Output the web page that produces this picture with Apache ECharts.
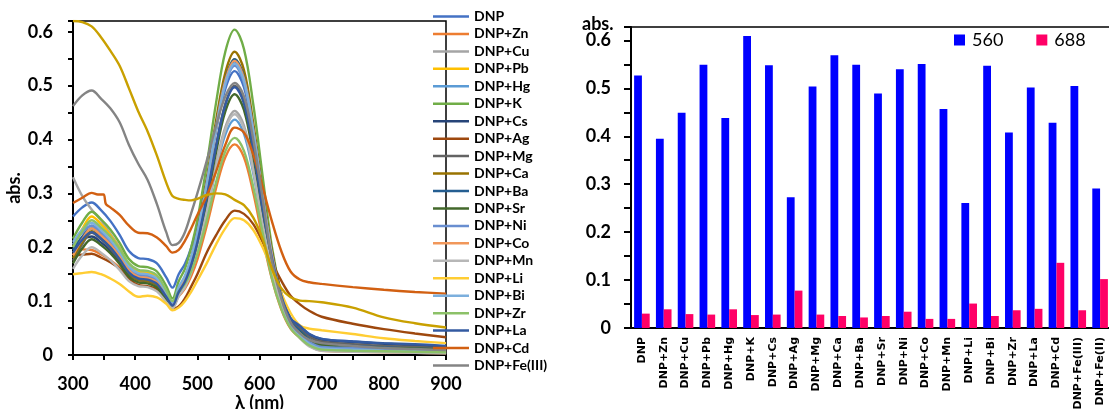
<!DOCTYPE html>
<html><head><meta charset="utf-8">
<script src="https://cdn.jsdelivr.net/npm/echarts@6/dist/echarts.min.js"></script>
<style>html,body{margin:0;padding:0;background:#fff}#c{width:1109px;height:409px}</style>
</head><body><div id="c"></div>
<script>
// ---------- Left panel: absorption spectra ----------
const wavelengths = [300,315,330,345,360,375,390,405,420,435,450,460,470,480,490,500,515,530,545,560,575,590,605,620,635,650,665,680,700,750,800,850,900];
const cdWavelengths = [300,315,330,340,349,353,360,375,390,405,420,435,450,460,470,480,490,500,515,530,545,560,575,590,605,620,635,650,665,680,700,750,800,850,900];

const absDNP = [.257,.274,.283,.269,.249,.223,.193,.180,.178,.170,.144,.125,.150,.169,.199,.241,.324,.417,.494,.527,.497,.412,.302,.178,.110,.067,.054,.039,.030,.025,.021,.018,.015];
const absZn  = [.190,.196,.195,.187,.176,.162,.145,.138,.136,.128,.106,.092,.109,.123,.146,.177,.239,.309,.367,.391,.367,.301,.217,.141,.085,.049,.032,.018,.010,.008,.006,.005,.004];
const absCu  = [.330,.295,.270,.250,.225,.200,.165,.145,.143,.135,.112,.092,.114,.131,.158,.196,.270,.354,.423,.453,.426,.348,.249,.159,.094,.053,.035,.020,.012,.010,.008,.007,.006];
const absPb  = [.200,.234,.257,.243,.223,.198,.168,.155,.153,.145,.116,.095,.123,.145,.180,.227,.320,.425,.512,.549,.516,.421,.299,.187,.107,.061,.045,.029,.020,.017,.014,.012,.010];
const absHg  = [.205,.228,.240,.227,.210,.188,.162,.150,.148,.140,.115,.097,.117,.133,.159,.195,.265,.344,.409,.437,.411,.337,.243,.153,.091,.052,.035,.020,.012,.010,.008,.007,.006];
const absK   = [.216,.246,.266,.252,.233,.208,.178,.165,.163,.155,.128,.105,.137,.160,.199,.250,.352,.467,.563,.604,.568,.465,.332,.200,.114,.061,.041,.024,.015,.013,.011,.009,.008];
const absCs  = [.200,.215,.220,.209,.194,.174,.150,.140,.138,.130,.107,.092,.120,.142,.176,.224,.316,.421,.508,.545,.512,.417,.295,.191,.115,.068,.053,.037,.028,.024,.021,.018,.016];
const absAg  = [.185,.186,.188,.181,.172,.160,.142,.130,.128,.122,.103,.085,.090,.105,.127,.150,.190,.222,.250,.268,.262,.243,.210,.172,.138,.110,.094,.082,.071,.058,.048,.040,.033];
const absMg  = [.175,.206,.227,.215,.198,.177,.151,.140,.138,.130,.106,.090,.115,.135,.166,.209,.293,.388,.466,.500,.470,.383,.272,.176,.106,.063,.049,.034,.025,.020,.017,.015,.012];
const absCa  = [.180,.210,.230,.217,.200,.178,.152,.140,.138,.130,.106,.090,.120,.142,.178,.228,.324,.434,.524,.563,.529,.430,.304,.192,.110,.060,.044,.027,.018,.015,.012,.010,.008];
const absBa  = [.195,.220,.235,.222,.205,.183,.157,.145,.143,.135,.110,.093,.121,.143,.178,.226,.319,.424,.511,.549,.516,.420,.298,.187,.107,.061,.045,.029,.020,.017,.014,.012,.010];
const absSr  = [.170,.198,.215,.204,.189,.169,.145,.135,.133,.125,.102,.088,.112,.131,.161,.203,.284,.376,.452,.484,.455,.370,.262,.170,.099,.055,.042,.027,.018,.015,.013,.012,.010];
const absNi  = [.205,.228,.240,.227,.210,.187,.160,.148,.146,.138,.113,.095,.122,.144,.177,.223,.314,.416,.501,.537,.505,.412,.293,.183,.105,.058,.040,.024,.015,.013,.011,.009,.008];
const absCo  = [.185,.215,.235,.222,.205,.183,.157,.145,.143,.135,.110,.092,.120,.142,.177,.224,.317,.422,.509,.546,.513,.418,.296,.187,.107,.059,.033,.017,.008,.006,.005,.004,.003];
const absMn  = [.160,.185,.200,.190,.176,.158,.137,.128,.126,.118,.098,.087,.109,.126,.153,.191,.265,.348,.418,.447,.420,.342,.243,.159,.094,.053,.031,.016,.008,.006,.005,.004,.003];
const absLi  = [.150,.152,.154,.150,.142,.132,.118,.108,.110,.107,.095,.083,.088,.100,.117,.138,.170,.205,.235,.254,.250,.232,.200,.158,.115,.078,.055,.049,.046,.039,.031,.026,.022];
const absBi  = [.210,.233,.245,.232,.214,.191,.164,.152,.150,.142,.116,.098,.126,.147,.181,.227,.317,.420,.504,.541,.509,.416,.296,.183,.106,.058,.037,.021,.012,.010,.008,.007,.006];
const absZr  = [.200,.230,.250,.237,.220,.197,.170,.158,.156,.148,.120,.100,.118,.132,.155,.187,.249,.320,.378,.403,.379,.312,.227,.142,.086,.050,.032,.018,.010,.008,.007,.006,.005];
const absLa  = [.190,.214,.228,.216,.200,.178,.153,.142,.140,.132,.108,.092,.117,.136,.167,.209,.292,.386,.464,.497,.467,.381,.271,.179,.110,.068,.054,.039,.030,.025,.022,.020,.017];
const absCd  = [.282,.292,.301,.298,.298,.280,.274,.260,.240,.227,.226,.218,.202,.190,.195,.212,.235,.260,.295,.340,.390,.422,.413,.372,.312,.248,.193,.155,.140,.135,.132,.126,.121,.117,.114];
const absFe3 = [.462,.482,.491,.476,.458,.432,.390,.355,.325,.280,.228,.204,.208,.228,.263,.300,.360,.425,.480,.505,.480,.400,.290,.175,.105,.060,.040,.028,.022,.017,.013,.011,.009];
const absFe2 = [.620,.618,.610,.590,.565,.537,.495,.452,.415,.370,.320,.295,.290,.288,.287,.290,.297,.300,.298,.288,.278,.255,.215,.160,.124,.107,.101,.100,.098,.088,.070,.059,.051];

const spectraNames = ['DNP','DNP+Zn','DNP+Cu','DNP+Pb','DNP+Hg','DNP+K','DNP+Cs','DNP+Ag','DNP+Mg','DNP+Ca','DNP+Ba','DNP+Sr','DNP+Ni','DNP+Co','DNP+Mn','DNP+Li','DNP+Bi','DNP+Zr','DNP+La','DNP+Cd','DNP+Fe(III)','DNP+Fe(II)'];
const spectraValues = [absDNP,absZn,absCu,absPb,absHg,absK,absCs,absAg,absMg,absCa,absBa,absSr,absNi,absCo,absMn,absLi,absBi,absZr,absLa,absCd,absFe3,absFe2];
const spectraColors = ['#4472C4','#ED7D31','#A5A5A5','#FFC000','#5B9BD5','#70AD47','#264478','#9E480E','#636363','#997300','#255E91','#43682B','#698ED0','#F1975A','#B7B7B7','#FFCD33','#7CAFDD','#8CC168','#335AA1','#D26012','#848484','#C9A000'];
const legendNames = spectraNames.slice(0, 21);

// ---------- Right panel: bars ----------
const barCategories = ['DNP','DNP+Zn','DNP+Cu','DNP+Pb','DNP+Hg','DNP+K','DNP+Cs','DNP+Ag','DNP+Mg','DNP+Ca','DNP+Ba','DNP+Sr','DNP+Ni','DNP+Co','DNP+Mn','DNP+Li','DNP+Bi','DNP+Zr','DNP+La','DNP+Cd','DNP+Fe(III)','DNP+Fe(II)'];
const bar560 = [0.527,0.395,0.449,0.549,0.438,0.609,0.548,0.273,0.504,0.569,0.549,0.489,0.540,0.551,0.457,0.261,0.547,0.408,0.502,0.428,0.505,0.291];
const bar688 = [0.030,0.039,0.029,0.028,0.039,0.027,0.028,0.078,0.028,0.025,0.022,0.025,0.034,0.019,0.019,0.051,0.025,0.037,0.040,0.136,0.037,0.102];

function tenths(v){
  const k = Math.round(v*20);
  if (Math.abs(v*20 - k) > 1e-6 || k % 2) return '';
  return String(k/20);
}
const tickFont = {fontFamily:'Lato', fontWeight:'bold', fontSize:18, color:'#000'};
const axisLineStyle = {color:'#000', width:2};
const tickLine = {color:'#000', width:2};

const series = spectraNames.map((name, i) => {
  const xs = name === 'DNP+Cd' ? cdWavelengths : wavelengths;
  return {
    name, type:'line', xAxisIndex:0, yAxisIndex:0, showSymbol:false, smooth:0.35,
    lineStyle:{width:2.4, color:spectraColors[i]}, itemStyle:{color:spectraColors[i]},
    data: xs.map((x, j) => [x, spectraValues[i][j]])
  };
});
series.push({name:'560', type:'bar', xAxisIndex:1, yAxisIndex:1, data:bar560, barWidth:7.8, barGap:'0%', itemStyle:{color:'#0000FF'}});
series.push({name:'688', type:'bar', xAxisIndex:1, yAxisIndex:1, data:bar688, barWidth:7.8, barGap:'0%', itemStyle:{color:'#FF0066'}});

const option = {
  animation:false,
  backgroundColor:'#fff',
  title:[{text:'abs.', left:582, top:15, padding:0, textStyle:{fontFamily:'Lato', fontWeight:'bold', fontSize:18, color:'#000'}}],
  grid:[
    {left:73, top:21, width:373, height:334, show:true, borderColor:'#000', borderWidth:1.5, outerBoundsMode:'none', containLabel:false},
    {left:631, top:27, width:480, height:301, show:true, borderColor:'#000', borderWidth:1.5, outerBoundsMode:'none', containLabel:false}
  ],
  legend:[
    {data:legendNames, orient:'vertical', left:433, top:9, padding:0, icon:'rect', itemWidth:36, itemHeight:2.5, itemGap:2.45,
     selectedMode:false, textStyle:{fontFamily:'Lato', fontWeight:'bold', fontSize:14, lineHeight:15, color:'#000'}},
    {data:['560','688'], orient:'horizontal', left:954, top:31, padding:0, icon:'rect', itemWidth:11, itemHeight:11, itemGap:33,
     selectedMode:false, textStyle:{fontFamily:'Lato', fontSize:18, color:'#000', padding:[0,0,0,2]}}
  ],
  xAxis:[
    {type:'value', gridIndex:0, min:300, max:900, interval:100,
     name:'λ (nm)', nameLocation:'middle', nameGap:39, nameMoveOverlap:false, nameTextStyle:tickFont,
     axisLine:{lineStyle:axisLineStyle}, axisTick:{length:5, lineStyle:tickLine},
     minorTick:{show:true, splitNumber:2, length:5, lineStyle:tickLine},
     axisLabel:Object.assign({margin:20}, tickFont), splitLine:{show:false}, minorSplitLine:{show:false}},
    {type:'category', gridIndex:1, data:barCategories, boundaryGap:true,
     axisLine:{lineStyle:axisLineStyle}, axisTick:{length:4, interval:0, lineStyle:tickLine},
     axisLabel:{rotate:90, interval:0, margin:9, fontFamily:'DejaVu Sans', fontWeight:'bold', fontSize:11, color:'#000'}}
  ],
  yAxis:[
    {type:'value', gridIndex:0, min:0, max:0.62, interval:0.05,
     name:'abs.', nameLocation:'middle', nameGap:50, nameMoveOverlap:false, nameTextStyle:{fontFamily:'Lato', fontWeight:'bold', fontSize:18, color:'#000'},
     axisLine:{show:true, lineStyle:axisLineStyle}, axisTick:{show:true, length:5, lineStyle:tickLine},
     axisLabel:Object.assign({margin:20, formatter:tenths}, tickFont), splitLine:{show:false}},
    {type:'value', gridIndex:1, min:0, max:0.628, interval:0.05,
     axisLine:{show:true, lineStyle:axisLineStyle}, axisTick:{show:true, length:7, lineStyle:tickLine},
     axisLabel:Object.assign({margin:20, formatter:tenths}, tickFont), splitLine:{show:false}}
  ],
  series
};
const chart = echarts.init(document.getElementById('c'), null, {renderer:'canvas'});
chart.setOption(option);
</script></body></html>
